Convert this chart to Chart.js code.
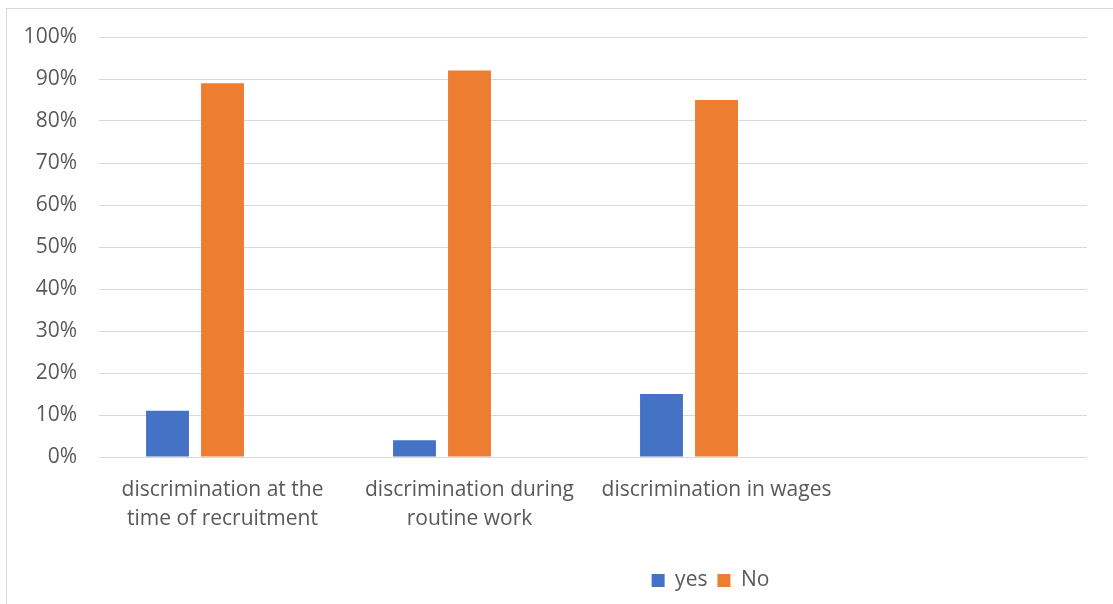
<!DOCTYPE html>
<html>
<head>
<meta charset="utf-8">
<script src="https://cdn.jsdelivr.net/npm/chart.js@4/dist/chart.umd.min.js"></script>
<style>
	body { margin: 0; width: 1113px; height: 604px; overflow: hidden; background: #fff; position: relative; }
	.frame { position: absolute; left: 6px; top: 8px; width: 1300px; height: 800px; border: 1px solid #d9d9d9; }
	#chart { position: absolute; left: 0; top: 0; }
</style>
</head>
<body>
<div class="frame"></div>
<canvas id="chart" width="1113" height="604"></canvas>
<script>
// categories (the 4th slot is empty in the original)
const categories = [
	['discrimination at the', 'time of recruitment'],
	['discrimination during', 'routine work'],
	'discrimination in wages',
	''
];
const yesValues = [11, 4, 15, null];
const noValues = [89, 92, 85, null];
const blankValues = [null, null, null, null]; // empty third series, keeps the bar spacing
const yTicks = [0, 10, 20, 30, 40, 50, 60, 70, 80, 90, 100];

const textColor = '#595959';
const font = { family: 'Open Sans', size: 21 };

// move the legend to the right like in the original
const legendShift = {
	id: 'legendShift',
	afterLayout(chart) {
		chart.legend.left += 167;
		chart.legend.right += 167;
	}
};

var elem = document.getElementById('chart');
var chart = new Chart(elem, {
	type: 'bar',
	data: {
		labels: categories,
		datasets: [{
			label: 'yes',
			data: yesValues,
			backgroundColor: '#4472C4'
		}, {
			label: 'No',
			data: noValues,
			backgroundColor: '#ED7D31'
		}, {
			label: '',
			data: blankValues,
			backgroundColor: 'rgba(0,0,0,0)'
		}]
	},
	options: {
		responsive: false,
		animation: false,
		categoryPercentage: 0.668,
		barPercentage: 0.78,
		layout: {
			padding: { left: 0, right: 26, top: 37, bottom: 3 }
		},
		plugins: {
			legend: {
				position: 'bottom',
				labels: {
					boxWidth: 13,
					boxHeight: 13,
					padding: 10,
					color: textColor,
					font: font,
					filter: item => item.text !== ''
				}
			},
			tooltip: { enabled: false }
		},
		scales: {
			x: {
				grid: { display: false },
				border: { display: false },
				ticks: {
					color: textColor,
					font: { family: 'Open Sans', size: 21, lineHeight: 1.4 },
					padding: 10,
					maxRotation: 0,
					autoSkip: false
				},
				afterFit: s => { s.height = 103; }
			},
			y: {
				min: 0,
				max: 100,
				afterBuildTicks: s => { s.ticks = yTicks.map(v => ({ value: v })); },
				grid: { color: '#d9d9d9', lineWidth: 1, drawTicks: false },
				border: { display: false },
				ticks: {
					color: textColor,
					font: font,
					padding: 22,
					callback: v => v + '%'
				},
				afterFit: s => { s.width = 99; }
			}
		}
	},
	plugins: [legendShift]
});
</script>
</body>
</html>
